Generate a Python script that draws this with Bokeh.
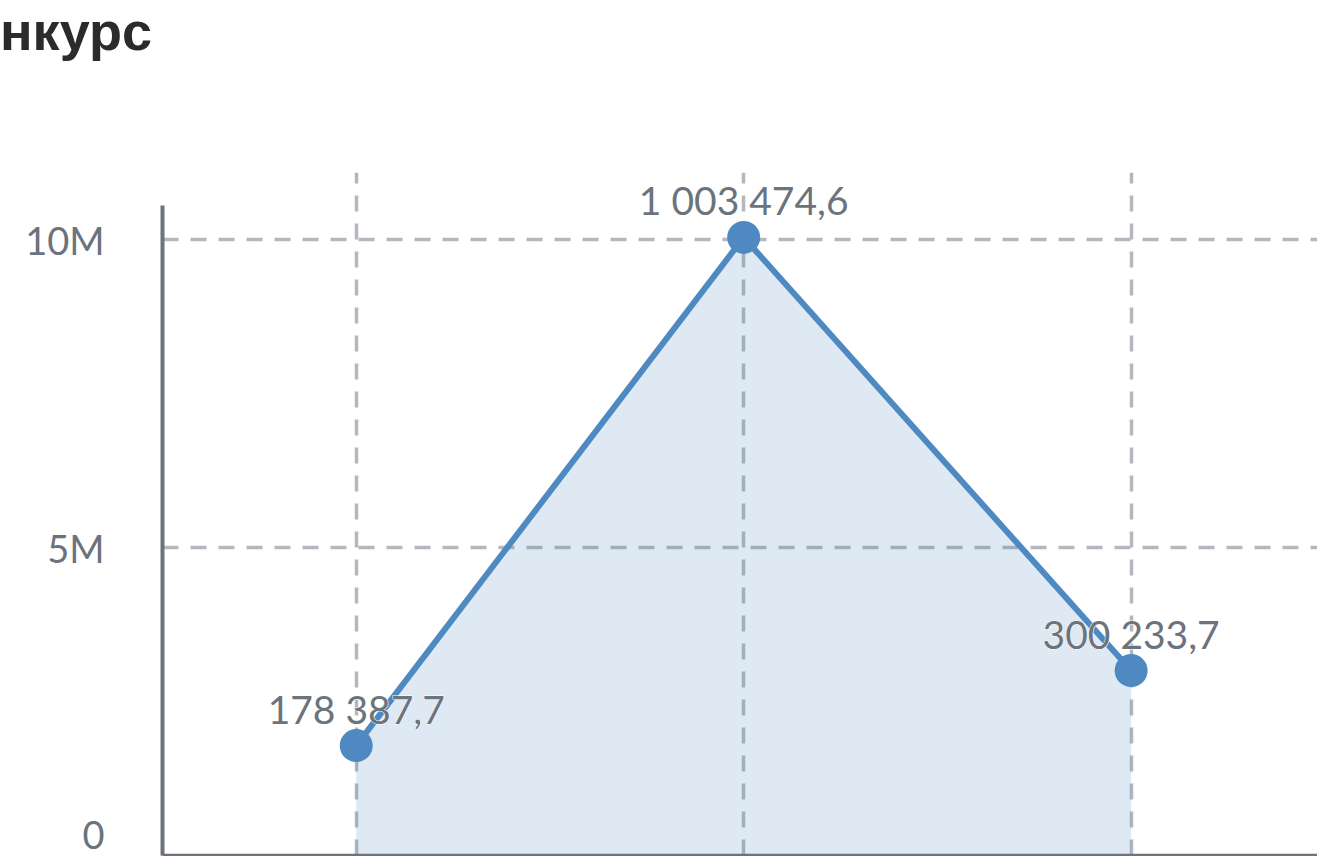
from bokeh.plotting import figure
from bokeh.layouts import column
from bokeh.models import Range1d, FixedTicker, ColumnDataSource, LabelSet, Div
from bokeh.core.properties import value
from bokeh.embed import file_html
from bokeh.resources import INLINE

# data
x_pos = [0, 1, 2]
values = [1783877, 10034746, 3002337]
labels = ["178 387,7", "1 003 474,6", "300 233,7"]
y_ticks = [0, 5_000_000, 10_000_000]
y_tick_labels = {0: "0", 5_000_000: "5M", 10_000_000: "10M"}
title_text = "нкурс"

LINE = "#4f89c1"
GRID = "#b4b7bd"
AXIS = "#6c737b"
TXT = "#6b737c"

W = 1317
TITLE_H = 172
MAIN_H = 856 - TITLE_H
Y_AXIS_TOP = 10_550_000
Y_RANGE_TOP = 11_088_000

# ---- title (the original title is cropped at the left edge) ----
title_div = Div(text=title_text, width=W, height=TITLE_H, margin=(0, 0, 0, 0),
                styles={"font-family": "'Liberation Sans', Arial, sans-serif",
                        "font-weight": "bold", "font-size": "54px", "line-height": "normal",
                        "color": "#2b2b2b", "margin": "0", "padding": "0"})

# ---- main chart ----
src = ColumnDataSource(dict(x=x_pos, y=values, lab=labels, base=[0] * len(values)))

p = figure(width=W, height=MAIN_H, output_backend="svg", toolbar_location=None,
           x_range=Range1d(-0.5, 2.481), y_range=Range1d(0, Y_RANGE_TOP),
           min_border_left=162, min_border_right=0, min_border_top=0, min_border_bottom=1)
p.outline_line_color = None
p.background_fill_color = "white"

# grids
p.xgrid.ticker = FixedTicker(ticks=x_pos)
p.ygrid.ticker = FixedTicker(ticks=y_ticks[1:])
for g in (p.xgrid, p.ygrid):
    g.grid_line_color = GRID
    g.grid_line_width = 3.5
    g.grid_line_dash = "16 12"

# y axis
p.yaxis.ticker = FixedTicker(ticks=y_ticks)
p.yaxis.bounds = (0, Y_AXIS_TOP)
p.yaxis.major_label_overrides = y_tick_labels
p.yaxis.major_label_text_font = "Lato"
p.yaxis.major_label_text_font_size = "38px"
p.yaxis.major_label_text_color = TXT
p.yaxis.major_label_standoff = 58
p.yaxis.major_tick_out = 0
p.yaxis.major_tick_in = 0
p.yaxis.minor_tick_out = 0
p.yaxis.minor_tick_in = 0
p.yaxis.axis_line_color = AXIS
p.yaxis.axis_line_width = 4

# x axis (its category labels lie outside the visible area)
p.xaxis.ticker = FixedTicker(ticks=[])
p.xaxis.major_label_standoff = 0
p.xaxis.major_tick_out = 0
p.xaxis.major_tick_in = 0
p.xaxis.minor_tick_out = 0
p.xaxis.minor_tick_in = 0
p.xaxis.axis_line_color = AXIS
p.xaxis.axis_line_width = 3.5

# area + line + markers
p.varea(x="x", y1="base", y2="y", source=src, fill_color=LINE, fill_alpha=0.19)
p.line(x="x", y="y", source=src, line_color=LINE, line_width=6)
p.scatter(x="x", y="y", source=src, size=33, fill_color=LINE, line_color=LINE, line_width=0)

# data labels: white halo underneath, grey text on top
p.add_layout(LabelSet(x="x", y="y", text="lab", source=src, text_font=value("Lato"),
                      text_font_size="39px", text_color="white", text_outline_color="white",
                      text_align="center", text_baseline="middle", y_offset=37))
p.add_layout(LabelSet(x="x", y="y", text="lab", source=src, text_font=value("Lato"),
                      text_font_size="39px", text_color=TXT, text_align="center",
                      text_baseline="middle", y_offset=37))

layout = column(title_div, p, spacing=0)
open("out.html", "w").write(file_html(layout, INLINE))
